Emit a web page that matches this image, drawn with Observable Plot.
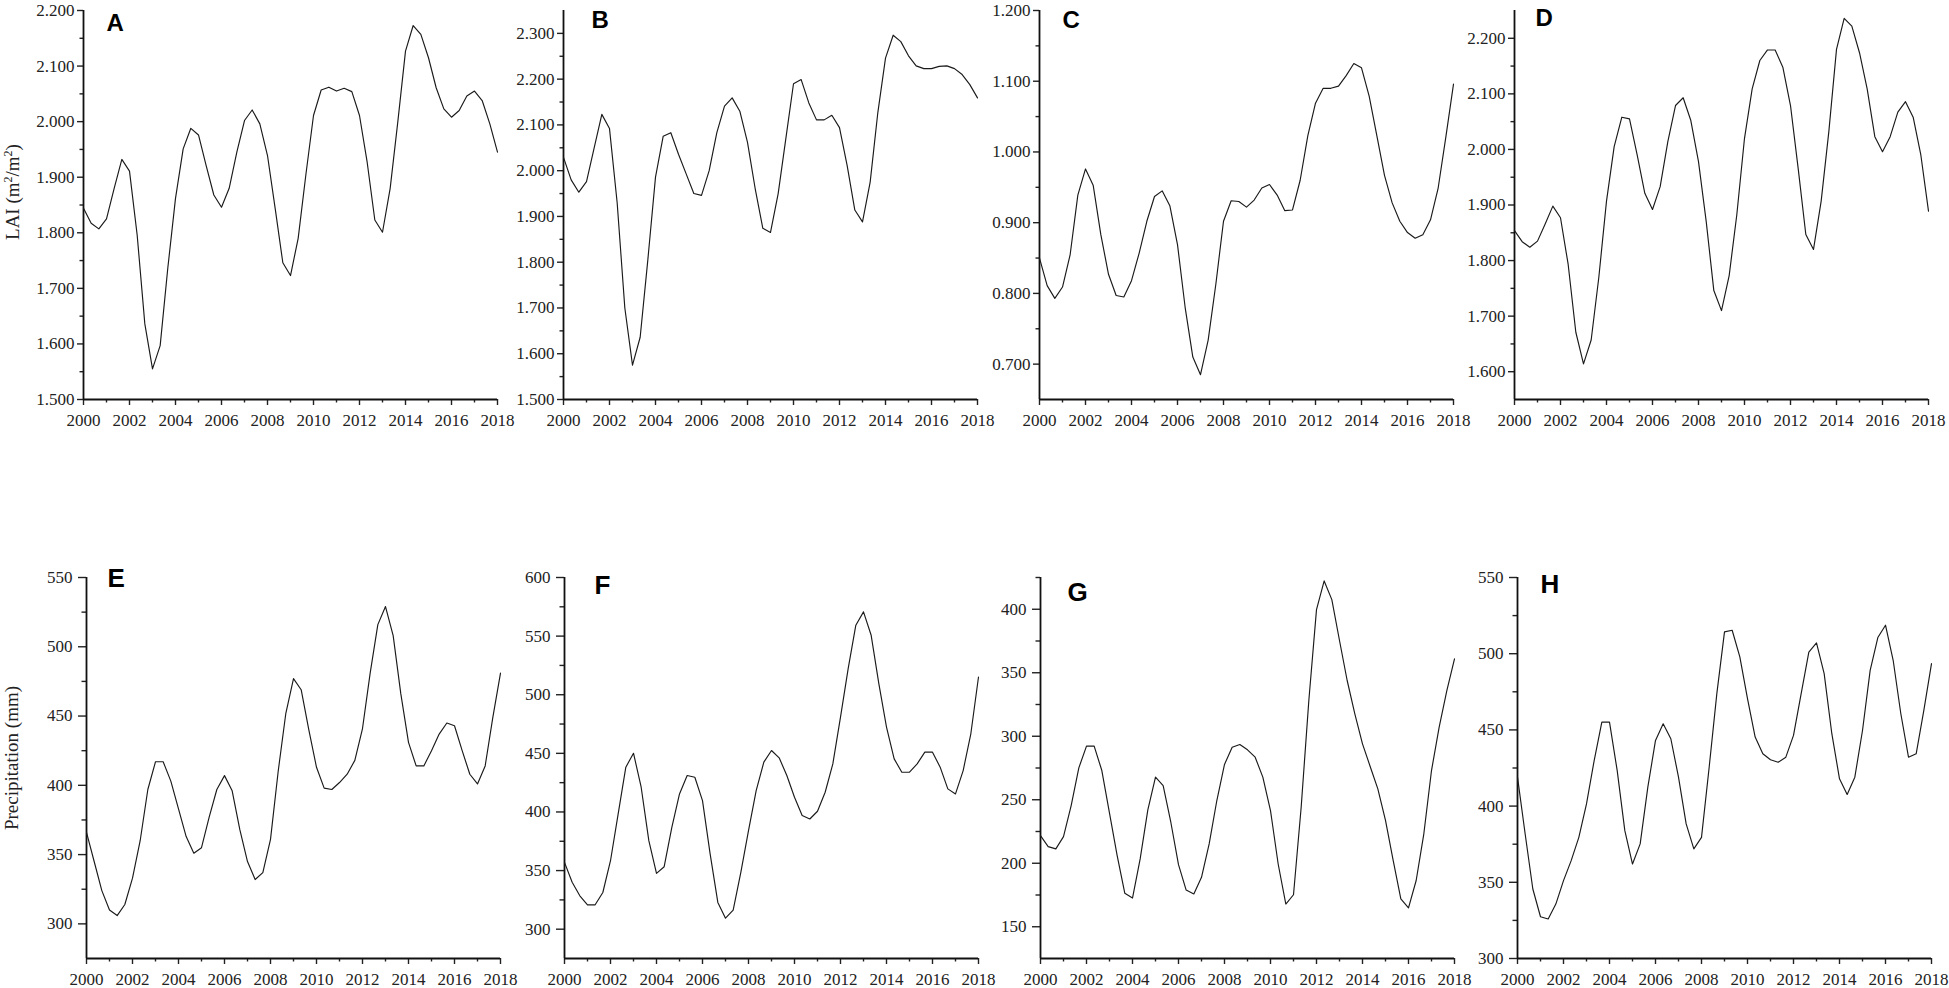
<!DOCTYPE html>
<html>
<head>
<meta charset="utf-8">
<script src="https://cdn.jsdelivr.net/npm/d3@7"></script>
<script src="https://cdn.jsdelivr.net/npm/@observablehq/plot@0.6"></script>
<style>
  body { margin: 0; background: #fff; }
  #root { position: relative; width: 1949px; height: 988px; overflow: hidden; background: #fff; }
  .ylab { position: absolute; font-family: "Liberation Serif", "Times New Roman", serif; font-size: 19px; color: #222;
          white-space: nowrap; transform: translate(-50%, -50%) rotate(-90deg); }
  .ylab sup { font-size: 12px; vertical-align: 7px; }
</style>
</head>
<body>
<div id="root"></div>
<script>
// ---- time axis: three samples per year, 2000 .. 2018 ----
const startYear = 2000;
const samplesPerYear = 3;

// ---- LAI series (m2/m2) ----
const laiA = [1.844,1.817,1.807,1.825,1.880,1.932,1.911,1.796,1.636,1.555,1.597,1.737,1.862,1.951,1.988,1.976,1.921,1.868,1.846,1.880,1.945,2.002,2.021,1.996,1.939,1.844,1.746,1.723,1.790,1.904,2.011,2.057,2.062,2.055,2.060,2.054,2.011,1.927,1.823,1.801,1.880,2.000,2.127,2.173,2.157,2.115,2.061,2.023,2.008,2.020,2.046,2.055,2.038,1.996,1.945];
const laiB = [2.029,1.980,1.953,1.976,2.050,2.123,2.092,1.930,1.700,1.575,1.636,1.805,1.986,2.075,2.083,2.036,1.993,1.950,1.946,2.000,2.083,2.141,2.159,2.130,2.062,1.961,1.874,1.865,1.950,2.070,2.190,2.199,2.148,2.111,2.111,2.121,2.094,2.011,1.914,1.888,1.975,2.127,2.246,2.296,2.282,2.251,2.229,2.223,2.223,2.228,2.229,2.223,2.210,2.188,2.159];
const laiC = [0.850,0.811,0.793,0.809,0.855,0.939,0.976,0.953,0.883,0.827,0.797,0.795,0.818,0.857,0.902,0.937,0.945,0.924,0.869,0.780,0.710,0.685,0.734,0.813,0.902,0.931,0.930,0.922,0.932,0.949,0.954,0.939,0.917,0.918,0.960,1.023,1.069,1.090,1.090,1.093,1.108,1.125,1.119,1.079,1.023,0.967,0.928,0.902,0.886,0.878,0.883,0.904,0.949,1.021,1.096];
const laiD = [1.854,1.834,1.824,1.835,1.866,1.898,1.877,1.793,1.671,1.614,1.657,1.770,1.907,2.005,2.058,2.055,1.990,1.921,1.892,1.933,2.014,2.079,2.093,2.052,1.978,1.871,1.746,1.710,1.773,1.883,2.020,2.109,2.160,2.179,2.179,2.148,2.079,1.966,1.847,1.820,1.907,2.032,2.180,2.236,2.222,2.174,2.109,2.023,1.996,2.023,2.067,2.086,2.058,1.990,1.889];

// ---- Precipitation series (mm) ----
const preE = [366,345,324,310,306,314,333,360,397,417,417,403,383,363,351,355,377,397,407,396,368,345,332,337,361,410,452,477,469,440,413,398,397,402,408,418,441,481,516,529,508,466,431,414,414,425,437,445,443,425,408,401,414,449,481];
const preF = [357,340,328.5,320.8,320.8,331.3,358.4,398.3,438.2,450.1,421.1,375.5,347.6,353.3,386.9,415.4,431.1,429.6,409.7,364.1,322.8,309.4,316.2,348.4,384.0,418.2,442.5,452.4,446.2,431.1,412.5,396.9,394.0,400.6,416.8,441.0,480.9,522.2,559.3,570.7,550.7,509.4,472.4,445.3,433.9,433.9,441.0,451.0,451.0,438.2,419.7,415.4,435.3,466.7,515.1];
const preG = [221.8,213.1,211.3,221.0,245.4,275.1,292.2,292.2,273.0,239.4,206.0,176.3,172.6,203.4,242.0,267.8,261.2,232.3,198.9,178.9,175.8,188.9,215.2,249.4,277.8,291.4,293.5,289.3,283.5,267.8,241.5,199.4,167.9,175.2,244.1,328.2,399.7,422.3,407.6,375.4,343.9,317.7,294.0,276.2,258.6,233.7,202.2,172.0,164.9,186.4,223.2,273.0,307.2,336.0,361.0];
const preH = [419,381.7,345.6,327.4,325.9,335.7,351.1,364.2,379.5,401.4,429.9,455.1,455.1,423.4,383.9,362.0,375.2,412.4,443.1,454.0,444.2,419.0,388.3,371.9,379.5,425.5,473.8,514.3,515.4,497.9,470.5,445.3,434.3,430.4,428.8,432.1,446.4,473.8,501.1,507.1,486.9,447.5,417.9,407.6,419.0,449.6,489.1,510.6,518.7,495.7,460.6,432.1,434.3,462.8,493.5];

// ---- tick labels ----
const xLabelYears = [2000,2002,2004,2006,2008,2010,2012,2014,2016,2018];
const xMinorYears = [2001,2003,2005,2007,2009,2011,2013,2015,2017];

const yTicksA = [1.5,1.6,1.7,1.8,1.9,2.0,2.1,2.2];
const yMinorA = [1.55,1.65,1.75,1.85,1.95,2.05,2.15];
const yTicksB = [1.5,1.6,1.7,1.8,1.9,2.0,2.1,2.2,2.3];
const yMinorB = [1.55,1.65,1.75,1.85,1.95,2.05,2.15,2.25];
const yTicksC = [0.7,0.8,0.9,1.0,1.1,1.2];
const yMinorC = [0.75,0.85,0.95,1.05,1.15];
const yTicksD = [1.6,1.7,1.8,1.9,2.0,2.1,2.2];
const yMinorD = [1.65,1.75,1.85,1.95,2.05,2.15];
const yTicksE = [300,350,400,450,500,550];
const yMinorE = [325,375,425,475,525];
const yTicksF = [300,350,400,450,500,550,600];
const yMinorF = [325,375,425,475,525,575];
const yTicksG = [150,200,250,300,350,400];
const yMinorG = [175,225,275,325,375,425];
const yTicksH = [300,350,400,450,500,550];
const yMinorH = [325,375,425,475,525];

const letters = ["A","B","C","D","E","F","G","H"];
const laiLabel = 'LAI (m<sup>2</sup>/m<sup>2</sup>)';
const preLabel = 'Precipitation (mm)';

// ---- layout (not data) ----
const root = document.getElementById("root");
const frameW = 414;
const mL = 70, mR = 14, mT = 26, mB = 42;

const panels = [
  {values: laiA, domain: [1.5, 2.2],  ticks: yTicksA, minor: yMinorA, fmt: d3.format(".3f"), left: 83,   top: 10,  h: 389, row: 0, ldx: 23, ldy: 3},
  {values: laiB, domain: [1.5, 2.35], ticks: yTicksB, minor: yMinorB, fmt: d3.format(".3f"), left: 563,  top: 10,  h: 389, row: 0, ldx: 28, ldy: 0},
  {values: laiC, domain: [0.65, 1.2], ticks: yTicksC, minor: yMinorC, fmt: d3.format(".3f"), left: 1039, top: 10,  h: 389, row: 0, ldx: 23, ldy: 0},
  {values: laiD, domain: [1.55, 2.25],ticks: yTicksD, minor: yMinorD, fmt: d3.format(".3f"), left: 1514, top: 10,  h: 389, row: 0, ldx: 21, ldy: -2},
  {values: preE, domain: [275, 550],  ticks: yTicksE, minor: yMinorE, fmt: d3.format("d"),   left: 86,   top: 577, h: 381, row: 1, ldx: 21, ldy: -9},
  {values: preF, domain: [275, 600],  ticks: yTicksF, minor: yMinorF, fmt: d3.format("d"),   left: 564,  top: 577, h: 381, row: 1, ldx: 30, ldy: -2},
  {values: preG, domain: [125, 425],  ticks: yTicksG, minor: yMinorG, fmt: d3.format("d"),   left: 1040, top: 577, h: 381, row: 1, ldx: 27, ldy: 5},
  {values: preH, domain: [300, 550],  ticks: yTicksH, minor: yMinorH, fmt: d3.format("d"),   left: 1517, top: 577, h: 381, row: 1, ldx: 23, ldy: -3}
];

panels.forEach((p, idx) => {
  const data = p.values.map((v, i) => ({t: startYear + i / samplesPerYear, v}));
  const top = p.row === 0;
  const svg = Plot.plot({
    width: mL + frameW + mR,
    height: mT + p.h + mB,
    marginLeft: mL, marginRight: mR, marginTop: mT, marginBottom: mB,
    style: {fontFamily: '"Liberation Serif", "Times New Roman", serif', color: "#222", background: "transparent", overflow: "visible"},
    x: {domain: [2000, 2018]},
    y: {domain: p.domain},
    marks: [
      Plot.axisX({ticks: xLabelYears, tickSize: 6, tickPadding: 8, tickFormat: d3.format("d"), label: null, fontSize: 17, strokeWidth: 1.4}),
      Plot.axisX({ticks: xMinorYears, tickSize: 3.5, tickFormat: () => "", label: null, strokeWidth: 1.4}),
      Plot.axisY({ticks: p.ticks, tickSize: top ? 6 : 8, tickPadding: top ? 3 : 6, tickFormat: p.fmt, label: null, fontSize: top ? 17 : 17, strokeWidth: 1.4}),
      Plot.axisY({ticks: p.minor, tickSize: top ? 3.5 : 4.5, tickFormat: () => "", label: null, strokeWidth: 1.4}),
      Plot.ruleX([2000], {stroke: "#111", strokeWidth: 1.8}),
      Plot.ruleY([p.domain[0]], {stroke: "#111", strokeWidth: 1.8}),
      Plot.line(data, {x: "t", y: "v", stroke: "#1a1a1a", strokeWidth: 1.15}),
      Plot.text([letters[idx]], {text: d => d, frameAnchor: "top-left", dx: p.ldx, dy: p.ldy, lineAnchor: "top", textAnchor: "start",
                                 fontFamily: '"Liberation Sans", Arial, sans-serif', fontWeight: "bold", fontSize: top ? 24 : 26, fill: "#000"})
    ]
  });
  svg.style.position = "absolute";
  svg.style.left = (p.left - mL) + "px";
  svg.style.top = (p.top - mT) + "px";
  root.appendChild(svg);
});

function addYLabel(html, cx, cy) {
  const d = document.createElement("div");
  d.className = "ylab";
  d.innerHTML = html;
  d.style.left = cx + "px";
  d.style.top = cy + "px";
  root.appendChild(d);
}
addYLabel(laiLabel, 12, 192);
addYLabel(preLabel, 12, 758);
</script>
</body>
</html>
